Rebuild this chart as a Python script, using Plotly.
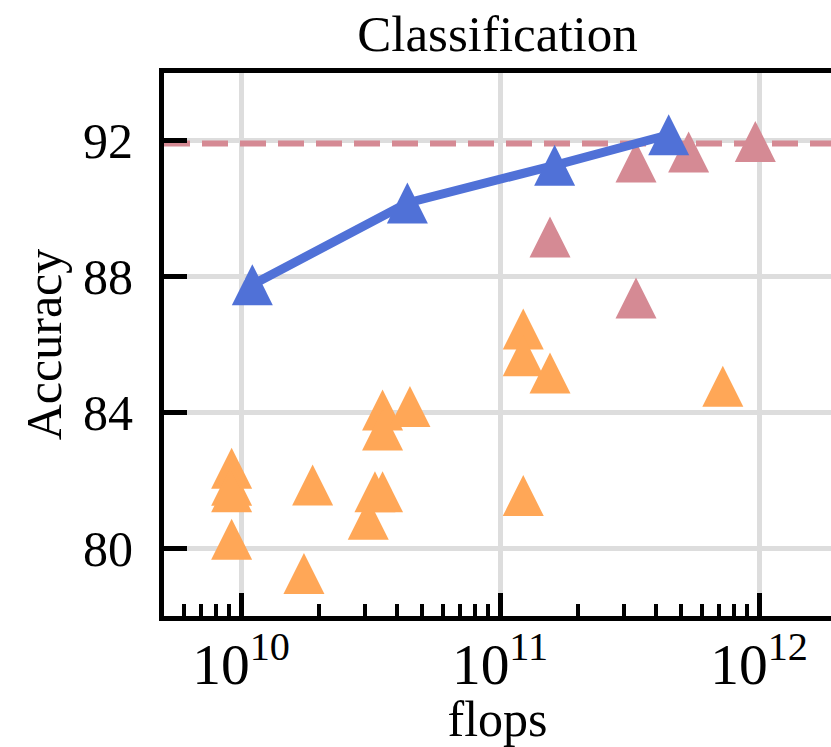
import plotly.graph_objects as go

# ---- data ----
blue_flops = [1.106e10, 4.39e10, 1.625e11, 4.48e11]
blue_acc = [87.76, 90.17, 91.28, 92.18]

pink_flops = [3.35e11, 5.35e11, 9.68e11, 1.56e11, 3.35e11]
pink_acc = [91.38, 91.67, 91.98, 89.17, 87.37]

orange_flops = [9.2e9, 9.2e9, 9.2e9, 9.2e9, 1.89e10, 1.75e10, 3.52e10, 4.49e10,
                3.52e10, 3.29e10, 3.52e10, 3.1e10, 1.23e11, 1.23e11, 1.56e11,
                1.23e11, 7.25e11]
orange_acc = [82.35, 81.85, 81.66, 80.26, 81.86, 79.25, 84.07, 84.17,
              83.48, 81.66, 81.66, 80.85, 86.46, 85.67, 85.16,
              81.55, 84.77]

ref_acc = 91.92
y_ticks = [80, 84, 88, 92]

# axis limits (log10 for x)
x_range_log = [9.7027, 12.278]
y_range = [78, 94]

BLUE = "#5071d7"
PINK = "#d58a94"
ORANGE = "#ffa757"
FONT = "Liberation Serif"
MS = 41

def tri(color):
    return dict(symbol="arrow-down", angle=180, standoff=MS / 2, size=MS,
                color=color, line=dict(width=0))

fig = go.Figure()
# horizontal reference line spanning the whole x-axis
ref_x = [10 ** x_range_log[0], 10 ** x_range_log[1]]
fig.add_trace(go.Scatter(x=ref_x, y=[ref_acc] * len(ref_x), mode="lines",
                         line=dict(color=PINK, width=6, dash="26px,12px"),
                         showlegend=False, cliponaxis=True))
fig.add_trace(go.Scatter(x=orange_flops, y=orange_acc, mode="markers",
                         marker=tri(ORANGE), showlegend=False))
fig.add_trace(go.Scatter(x=pink_flops, y=pink_acc, mode="markers",
                         marker=tri(PINK), showlegend=False))
fig.add_trace(go.Scatter(x=blue_flops, y=blue_acc, mode="lines+markers",
                         line=dict(color=BLUE, width=9),
                         marker=tri(BLUE), showlegend=False))

fig.update_layout(
    width=831, height=747,
    margin=dict(l=164, r=0, t=73, b=131),
    paper_bgcolor="white", plot_bgcolor="white",
    font=dict(family=FONT, size=50, color="black"),
    title=dict(text="Classification", x=0.5, xref="paper", xanchor="center",
               y=1, yref="paper", yanchor="bottom", pad=dict(b=22),
               font=dict(family=FONT, size=51, color="black")),
)
fig.update_xaxes(
    type="log", range=x_range_log, dtick=1, exponentformat="power",
    showline=True, linecolor="black", linewidth=5, mirror=True,
    ticks="inside", ticklen=23, tickwidth=4.5, tickcolor="black",
    showgrid=True, gridcolor="#dddddd", gridwidth=5,
    minor=dict(dtick="D1", ticks="inside", ticklen=12, tickwidth=3.5,
               tickcolor="black", showgrid=False),
    tickfont=dict(family=FONT, size=46), ticklabelstandoff=-4,
    title=dict(text="flops", font=dict(family=FONT, size=50), standoff=0),
    zeroline=False,
)
fig.update_yaxes(
    range=y_range, tickvals=y_ticks,
    showline=True, linecolor="black", linewidth=5, mirror=False,
    ticks="inside", ticklen=23, tickwidth=4.5, tickcolor="black",
    showgrid=True, gridcolor="#dddddd", gridwidth=5,
    tickfont=dict(family=FONT, size=50), ticklabelstandoff=16,
    title=dict(text="Accuracy", font=dict(family=FONT, size=50), standoff=7),
    zeroline=False,
)

fig.write_html("out.html")
